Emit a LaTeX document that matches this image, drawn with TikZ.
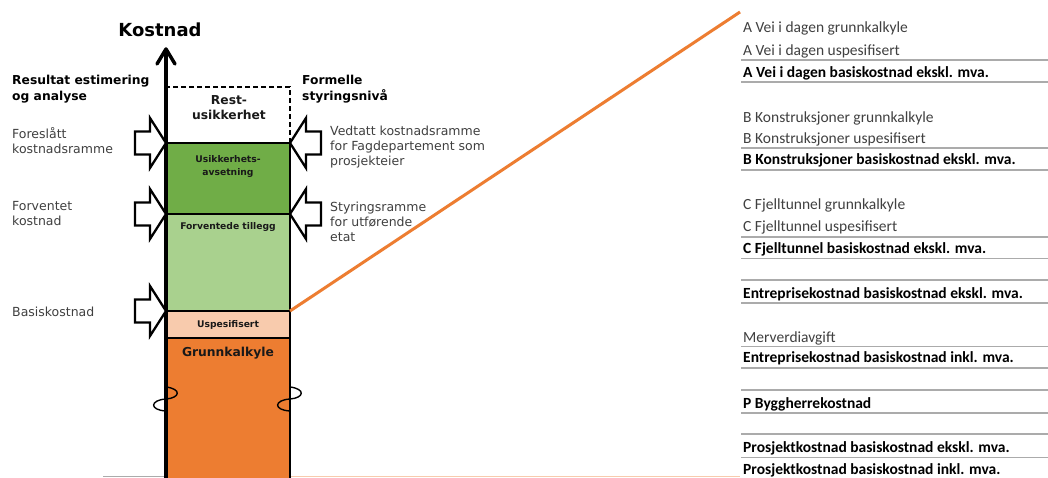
\documentclass[tikz,border=0pt]{standalone}
\usepackage{fontspec}
\setmainfont{DejaVu Sans}
\newfontfamily\tabfont{Carlito}
\definecolor{dkgreen}{HTML}{70AD47}
\definecolor{ltgreen}{HTML}{A9D18E}
\definecolor{peach}{HTML}{F8CBAD}
\definecolor{orng}{HTML}{ED7D31}
\definecolor{txtgray}{HTML}{404040}
\definecolor{rulegray}{HTML}{ABABAB}
\tikzset{
  colbox/.style={draw=black, line width=2pt, anchor=north west, minimum width=124pt, inner sep=0pt, outer sep=0pt},
  boxsmall/.style={font=\bfseries\fontsize{9.2}{13}\selectfont, text=black!90, align=center, inner sep=0pt},
  boxbig/.style={font=\bfseries\fontsize{12.3}{15}\selectfont, text=black!90, align=center, inner sep=0pt},
  heading/.style={font=\bfseries\fontsize{12.3}{15.5}\selectfont, align=left, anchor=base west, inner sep=0pt},
  sidelabel/.style={font=\fontsize{12.5}{15}\selectfont, text=txtgray, align=left, anchor=base west, inner sep=0pt},
  tabreg/.style={font=\tabfont\fontsize{15.5}{18}\selectfont, text=txtgray, anchor=west, text height=10pt, text depth=0pt, inner sep=0pt},
  tabbold/.style={tabreg, font=\tabfont\bfseries\fontsize{15.5}{18}\selectfont, text=black},
  tabline/.style={draw=rulegray, line width=1.3pt},
  axisline/.style={line width=3.5pt, black},
  blockline/.style={draw=black, fill=white, line width=2.3pt},
  orangeline/.style={draw=orng, line width=3pt},
  squig/.style={draw=black, line width=1.4pt},
  barrowR/.pic={\path[blockline] (-31,-11.5) -- (-16,-11.5) -- (-16,-25) -- (0,0) -- (-16,25) -- (-16,11.5) -- (-31,11.5) -- cycle;},
  barrowL/.pic={\path[blockline] (31,-11.5) -- (16,-11.5) -- (16,-25) -- (0,0) -- (16,25) -- (16,11.5) -- (31,11.5) -- cycle;}
}
\begin{document}
\begin{tikzpicture}[x=1pt,y=-1pt]
\useasboundingbox[fill=white] (0,0) rectangle (1048,478);

% stray bottom lines
\draw[draw=rulegray, line width=1.4pt] (103,476.5) -- (166,476.5);
\draw[draw=peach, line width=1.4pt] (290,476.5) -- (740,476.5);

% column boxes
\node[colbox, draw=none, minimum height=56pt] (rest) at (166,87) {};
\draw[line width=1.6pt, dash pattern=on 5pt off 3pt] (rest.south east) -- (rest.north east) -- (rest.north west);
\node[colbox, fill=dkgreen, minimum height=71pt] (usik) at (166,143) {};
\node[colbox, fill=ltgreen, minimum height=97pt] (till) at (166,214) {};
\node[colbox, fill=peach, minimum height=27pt] (usp) at (166,311) {};
\node[colbox, fill=orng, minimum height=145pt] (grunn) at (166,338) {};

\node[boxbig] (restT) at (229,108) {Rest-\\usikkerhet};
\node[boxsmall] (usikT) at (228,166) {Usikkerhets-\\avsetning};
\node[boxsmall] (tillT) at (228,227) {Forventede tillegg};
\node[boxsmall] (uspT) at (228,325) {Uspesifisert};
\node[boxbig] (grunnT) at (228,353) {Grunnkalkyle};

% break squiggles
\draw[squig] (166,387) .. controls (182,389) and (180,398) .. (166,399) .. controls (150,400) and (149,410) .. (166,411);
\draw[squig] (290,387) .. controls (306,389) and (304,398) .. (290,399) .. controls (274,400) and (273,410) .. (290,411);

% axis
\coordinate (axtop) at (166,49);
\coordinate (axbot) at (166,480);
\draw[axisline] (axbot) -- (axtop);
\draw[axisline, line cap=round, line join=round] (157,64) -- (axtop) -- (175,64);
\node[font=\bfseries\fontsize{18}{20}\selectfont, inner sep=0pt] (kost) at (160,30) {Kostnad};

% orange connector
\coordinate (oend) at (740,12);
\draw[orangeline] (usp.north east) -- (oend);

% block arrows
\pic at (usik.north west) {barrowR};
\pic at (till.north west) {barrowR};
\pic at (usp.north west) {barrowR};
\pic at (usik.north east) {barrowL};
\pic at (till.north east) {barrowL};

% left labels (anchor = baseline of last line)
\node[heading] (hl) at (12,100.5) {Resultat estimering\\og analyse};
\node[sidelabel] (fk) at (12,153.5) {Foreslått\\kostnadsramme};
\node[sidelabel] (fv) at (12,225.5) {Forventet\\kostnad};
\node[sidelabel] (bk) at (12,316.5) {Basiskostnad};

% right labels
\node[heading] (hr) at (302,100.5) {Formelle\\styringsnivå};
\node[sidelabel] (vk) at (330,165.5) {Vedtatt kostnadsramme\\for Fagdepartement som\\prosjekteier};
\node[sidelabel] (sr) at (330,241.5) {Styringsramme\\for utførende\\etat};

% table
\node[tabreg] (r1) at (743,28) {A Vei i dagen grunnkalkyle};
\node[tabreg] (r2) at (743,51) {A Vei i dagen uspesifisert};
\draw[tabline] (741,60) -- (1048,60);
\node[tabbold] (r3) at (743,73) {A Vei i dagen basiskostnad ekskl. mva.};
\draw[tabline] (741,82) -- (1048,82);
\node[tabreg] (r4) at (743,118) {B Konstruksjoner grunnkalkyle};
\node[tabreg] (r5) at (743,139) {B Konstruksjoner uspesifisert};
\draw[tabline] (741,148) -- (1048,148);
\node[tabbold] (r6) at (743,160) {B Konstruksjoner basiskostnad ekskl. mva.};
\draw[tabline] (741,170) -- (1048,170);
\node[tabreg] (r7) at (743,205) {C Fjelltunnel grunnkalkyle};
\node[tabreg] (r8) at (743,227) {C Fjelltunnel uspesifisert};
\draw[tabline] (741,237) -- (1048,237);
\node[tabbold] (r9) at (743,248) {C Fjelltunnel basiskostnad ekskl. mva.};
\draw[tabline] (741,258.5) -- (1048,258.5);
\draw[tabline] (741,280) -- (1048,280);
\node[tabbold] (r10) at (743,293) {Entreprisekostnad basiskostnad ekskl. mva.};
\draw[tabline] (741,303) -- (1048,303);
\node[tabreg] (r11) at (743,337) {Merverdiavgift};
\draw[tabline] (741,346.5) -- (1048,346.5);
\node[tabbold] (r12) at (743,357.5) {Entreprisekostnad basiskostnad inkl. mva.};
\draw[tabline] (741,368) -- (1048,368);
\draw[tabline] (741,390) -- (1048,390);
\node[tabbold] (r13) at (743,403) {P Byggherrekostnad};
\draw[tabline] (741,413) -- (1048,413);
\draw[tabline] (741,434) -- (1048,434);
\node[tabbold] (r14) at (743,447) {Prosjektkostnad basiskostnad ekskl. mva.};
\draw[tabline] (741,457.5) -- (1048,457.5);
\node[tabbold] (r15) at (743,469) {Prosjektkostnad basiskostnad inkl. mva.};
\end{tikzpicture}
\end{document}
